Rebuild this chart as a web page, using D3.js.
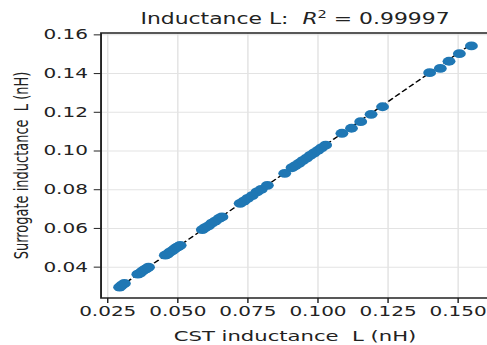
<!DOCTYPE html>
<html>
<head>
<meta charset="utf-8">
<script src="https://cdn.jsdelivr.net/npm/d3@7"></script>
<style>
  body { margin: 0; background: #fff; }
  svg { display: block; font-family: 'DejaVu Sans', sans-serif; }
  svg text { white-space: pre; }
</style>
</head>
<body>
<div id="chart"></div>
<script>
// CST (reference) inductance vs surrogate prediction, nH
const cstL = [
  0.0295, 0.0303, 0.0312, 0.0360, 0.0368, 0.0376, 0.0384, 0.0391, 0.0398,
  0.0458, 0.0466, 0.0474, 0.0482, 0.0490, 0.0497, 0.0504, 0.0511,
  0.0590, 0.0600, 0.0612, 0.0624, 0.0636, 0.0650, 0.0660,
  0.0725, 0.0738, 0.0752, 0.0768, 0.0785, 0.0800, 0.0822,
  0.0884, 0.0910, 0.0922, 0.0935, 0.0948, 0.0962, 0.0975, 0.0988, 0.1002, 0.1015, 0.1030,
  0.1088, 0.1122, 0.1155, 0.1192, 0.1233,
  0.1401, 0.1439, 0.1470, 0.1507, 0.1550,
];
const surrogateL = [
  0.0294, 0.0304, 0.0313, 0.0361, 0.0367, 0.0377, 0.0385, 0.0390, 0.0397,
  0.0459, 0.0465, 0.0475, 0.0481, 0.0491, 0.0498, 0.0503, 0.0510,
  0.0591, 0.0601, 0.0611, 0.0625, 0.0635, 0.0649, 0.0657,
  0.0727, 0.0738, 0.0753, 0.0767, 0.0786, 0.0799, 0.0820,
  0.0882, 0.0911, 0.0922, 0.0934, 0.0948, 0.0961, 0.0975, 0.0987, 0.1000, 0.1014, 0.1028,
  0.1089, 0.1115, 0.1149, 0.1187, 0.1226,
  0.1402, 0.1424, 0.1461, 0.1500, 0.1540,
];
const xTicks = [0.025, 0.050, 0.075, 0.100, 0.125, 0.150];
const yTicks = [0.04, 0.06, 0.08, 0.10, 0.12, 0.14, 0.16];
const xDomain = [0.02287, 0.1613];
const yDomain = [0.0238, 0.1607];
const r2Text = '0.99997';

const W = 487, H = 345;
const STRETCH = 1.46; // picture is squeezed in x-units, stretched back by viewBox
const VW = W / STRETCH;
const margin = { top: 33, right: VW - 335, bottom: H - 298, left: 69.2 };
const innerW = VW - margin.left - margin.right;
const innerH = H - margin.top - margin.bottom;

const svg = d3.select('#chart').append('svg')
  .attr('width', W)
  .attr('height', H)
  .attr('viewBox', `0 0 ${VW} ${H}`)
  .attr('preserveAspectRatio', 'none');

const g = svg.append('g').attr('transform', `translate(${margin.left},${margin.top})`);

const x = d3.scaleLinear().domain(xDomain).range([0, innerW]);
const y = d3.scaleLinear().domain(yDomain).range([innerH, 0]);

// Grid
g.append('g')
  .attr('transform', `translate(0,${innerH})`)
  .call(d3.axisBottom(x).tickValues(xTicks).tickSize(-innerH).tickFormat(''))
  .call((s) => s.select('.domain').remove())
  .call((s) => s.selectAll('line').attr('stroke', '#e3e3e3').attr('stroke-width', 1));
g.append('g')
  .call(d3.axisLeft(y).tickValues(yTicks).tickSize(-innerW).tickFormat(''))
  .call((s) => s.select('.domain').remove())
  .call((s) => s.selectAll('line').attr('stroke', '#e3e3e3').attr('stroke-width', 1));

// Identity reference line
const ext = d3.extent(cstL);
g.append('line')
  .attr('x1', x(ext[0])).attr('y1', y(ext[0]))
  .attr('x2', x(ext[1])).attr('y2', y(ext[1]))
  .attr('stroke', '#000')
  .attr('stroke-width', 1.2)
  .attr('stroke-dasharray', '4.5,2.2');

// Points
g.append('g')
  .selectAll('circle')
  .data(cstL.map((v, i) => ({ cst: v, sur: surrogateL[i] })))
  .join('circle')
  .attr('cx', (d) => x(d.cst))
  .attr('cy', (d) => y(d.sur))
  .attr('r', 4.4)
  .attr('fill', '#1f77b4');

// Axes
const xAxis = g.append('g')
  .attr('transform', `translate(0,${innerH})`)
  .call(d3.axisBottom(x).tickValues(xTicks).tickSize(5).tickPadding(3).tickFormat(d3.format('.3f')));
const yAxis = g.append('g')
  .call(d3.axisLeft(y).tickValues(yTicks).tickSize(5).tickPadding(4).tickFormat(d3.format('.2f')));

[xAxis, yAxis].forEach((a) => {
  a.select('.domain').remove();
  a.selectAll('line').attr('stroke', '#222').attr('stroke-width', 1);
  a.selectAll('text')
    .attr('fill', '#222')
    .attr('font-size', '13.7px')
    .attr('font-family', "'DejaVu Sans', sans-serif");
});

// Spines (left, bottom, top; right one falls off the picture)
g.append('path')
  .attr('d', `M${innerW},0H0V${innerH}H${innerW}`)
  .attr('fill', 'none')
  .attr('stroke', '#222')
  .attr('stroke-width', 1.3);

// Labels
svg.append('text')
  .attr('x', margin.left + innerW / 2)
  .attr('y', 341)
  .attr('text-anchor', 'middle')
  .attr('font-size', '14.5px')
  .attr('fill', '#222')
  .text('CST inductance  L (nH)');

svg.append('text')
  .attr('transform', `translate(19.5,${margin.top + innerH / 2}) rotate(-90)`)
  .attr('text-anchor', 'middle')
  .attr('font-size', '13px')
  .attr('fill', '#222')
  .text('Surrogate inductance  L (nH)');

const title = svg.append('text')
  .attr('x', margin.left + innerW / 2)
  .attr('y', 24.5)
  .attr('text-anchor', 'middle')
  .attr('font-size', '15px')
  .attr('fill', '#222');
title.append('tspan').text('Inductance L:  ');
title.append('tspan').attr('font-style', 'italic').text('R');
title.append('tspan').attr('font-size', '10px').attr('dy', -6).text('2');
title.append('tspan').attr('dy', 6).text(` = ${r2Text}`);
</script>
</body>
</html>
